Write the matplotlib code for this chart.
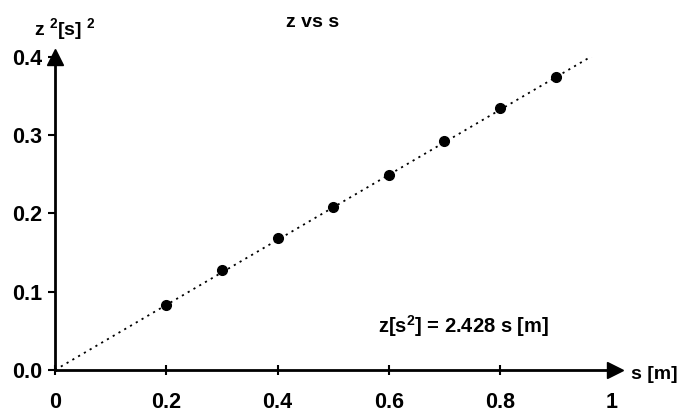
import numpy as np
import matplotlib
matplotlib.use("Agg")
import matplotlib.pyplot as plt

plt.rcParams.update({
    "font.family": "Liberation Sans",
    "font.size": 15.5,
    "font.weight": "bold",
    "mathtext.fontset": "custom",
    "mathtext.rm": "Liberation Sans:bold",
    "mathtext.it": "Liberation Sans:bold",
})

#data
s_vals = [0.2, 0.3, 0.4, 0.5, 0.6, 0.7, 0.8, 0.9]
z2_vals = [0.083, 0.128, 0.168, 0.208, 0.249, 0.292, 0.335, 0.374]

#trend line ends
fit_s = [0.0, 0.97]
fit_z = [0.0, 0.403]

x_ticks = [0, 0.2, 0.4, 0.6, 0.8, 1]
x_ticklabels = ["0", "0.2", "0.4", "0.6", "0.8", "1"]
y_ticks = [0.0, 0.1, 0.2, 0.3, 0.4]
y_ticklabels = ["0.0", "0.1", "0.2", "0.3", "0.4"]

fig = plt.figure(figsize=(6.8, 4.12), dpi=100)
ax = fig.add_axes([0.081, 0.102, 0.818, 0.760])

ax.plot(fit_s, fit_z, color="black", linestyle=(0, (1.2, 2.5)), linewidth=1.3)
ax.plot(s_vals, z2_vals, "o", color="black", markersize=7)

ax.set_xlim(0, 1.0)
ax.set_ylim(0, 0.4)

#only left and bottom axis, with arrow heads
ax.spines["top"].set_visible(False)
ax.spines["right"].set_visible(False)
ax.spines["left"].set_linewidth(2)
ax.spines["bottom"].set_linewidth(2)
ax.plot(1.007, 0, ">", color="black", markersize=11, transform=ax.transAxes, clip_on=False)
ax.plot(0, 1.0, "^", color="black", markersize=11, transform=ax.transAxes, clip_on=False)

ax.set_xticks(x_ticks)
ax.set_xticklabels(x_ticklabels)
ax.set_yticks(y_ticks)
ax.set_yticklabels(y_ticklabels)
ax.tick_params(axis="x", direction="inout", length=7, width=1.5, pad=12)
ax.tick_params(axis="y", direction="out", length=5, width=1.5, pad=4)

fig.text(0.459, 0.945, "z vs s", ha="center", va="center", fontsize=14)
fig.text(0.05, 0.93, r"z $^{2}$[s] $^{2}$", ha="left", va="center", fontsize=14)
fig.text(0.928, 0.09, "s [m]", ha="left", va="center", fontsize=14)
ax.text(0.58, 0.056, r"z[s$^{2}$] = 2.428 s [m]", fontsize=14.5, ha="left", va="center")

fig.savefig("out.png", dpi=100)
